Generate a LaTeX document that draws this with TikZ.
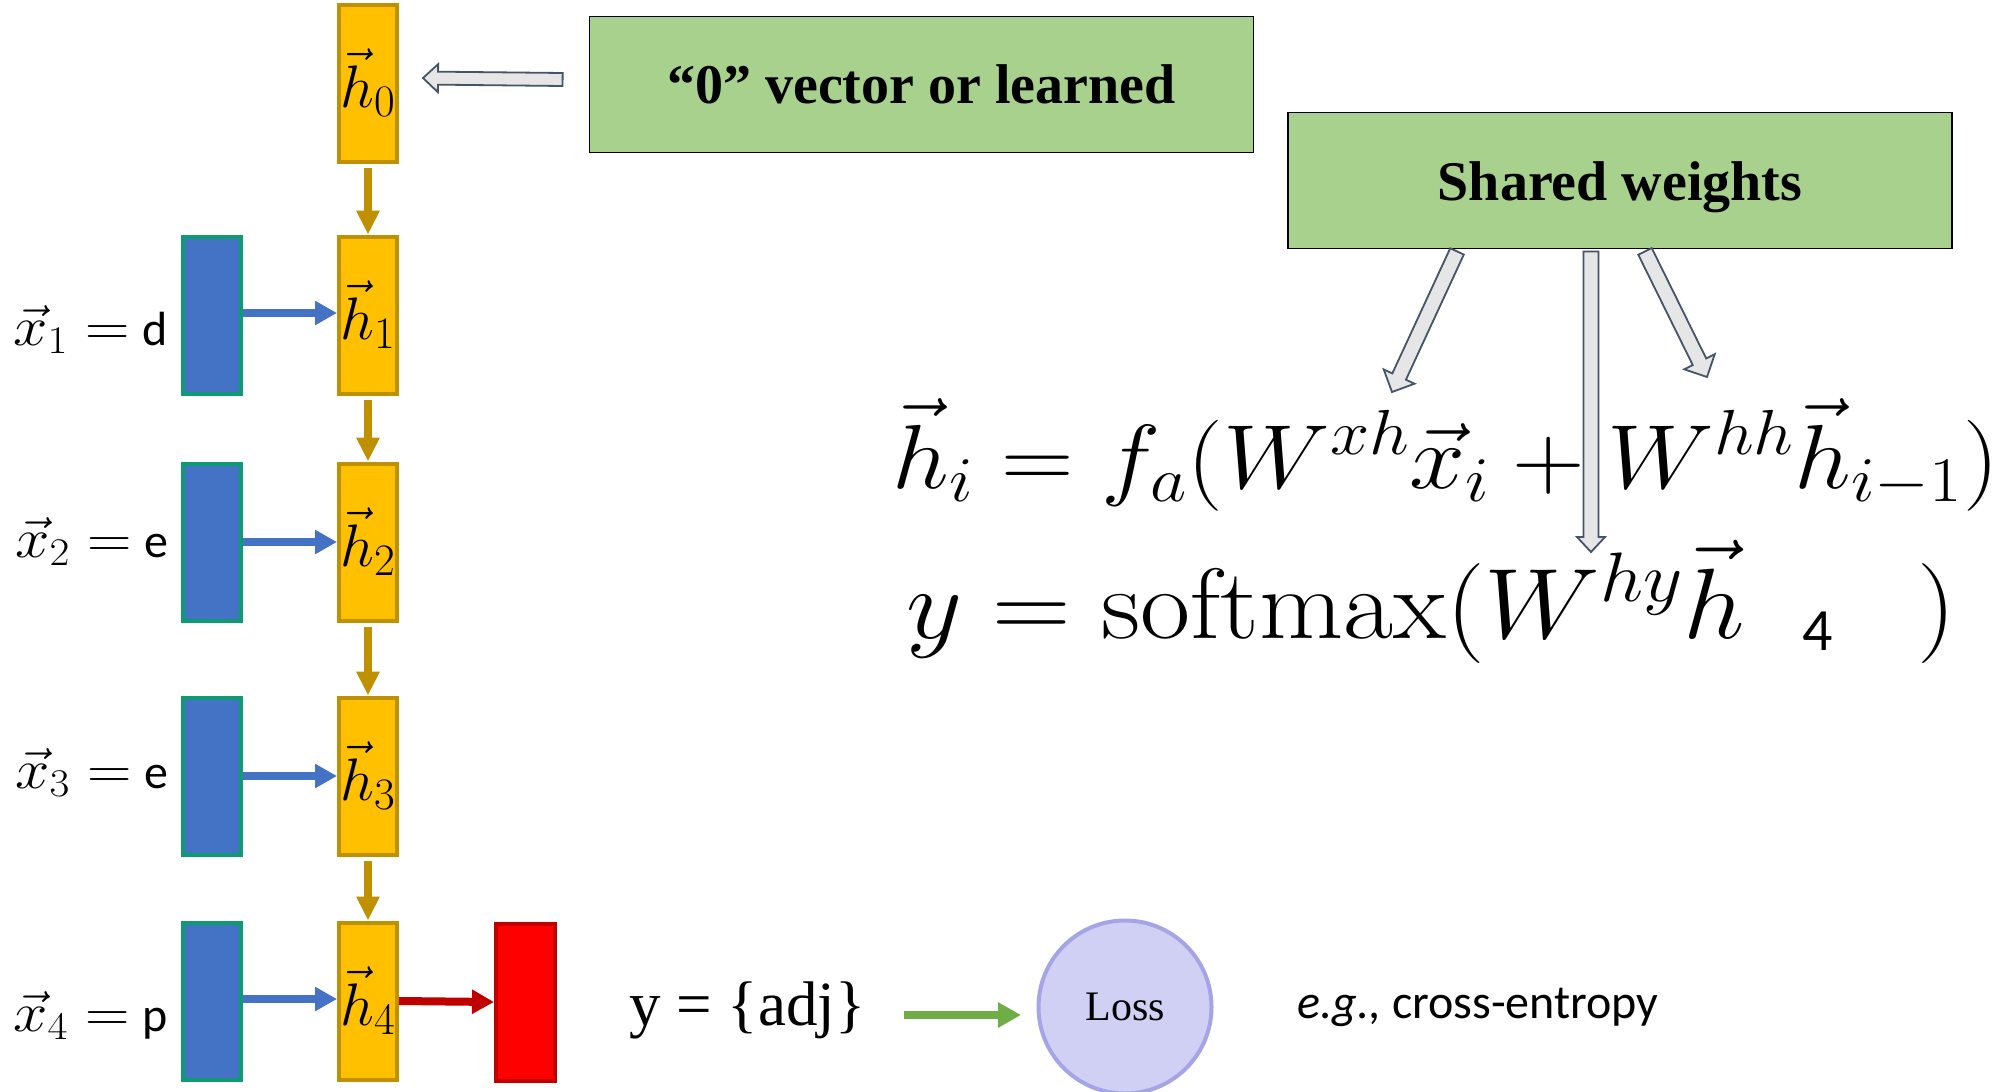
\RequirePackage{fix-cm}
\documentclass[tikz,border=0pt]{standalone}
\usepackage{fontspec}
\usepackage{graphicx}
\newfontfamily\tnr{Liberation Serif}
\newfontfamily\calib{Carlito}
\usetikzlibrary{arrows.meta,calc}
\DeclareMathSizes{30}{30}{22.5}{15}
\definecolor{gold}{HTML}{FFC000}
\definecolor{goldline}{HTML}{BF9000}
\definecolor{xblue}{HTML}{4472C4}
\definecolor{xteal}{HTML}{0E9A72}
\definecolor{xred}{HTML}{FF0000}
\definecolor{xdred}{HTML}{C00000}
\definecolor{xgreen}{HTML}{A9D18E}
\definecolor{arrgreen}{HTML}{70AD47}
\definecolor{lossfill}{HTML}{D0D0F4}
\definecolor{lossline}{HTML}{A5A5E6}
\definecolor{hollowfill}{HTML}{E7E6E6}
\definecolor{hollowline}{HTML}{44546A}
\newcommand\fs[1]{\fontsize{#1}{#1}\selectfont}
% block arrow: start, tip, shaft half width, head half width, head length
\newcommand\blockarrow[5]{%
  \coordinate (ba-h) at ($(#2)!#5!(#1)$);
  \draw[hollowarrow] ($(#1)!#3!90:(#2)$) -- ($(ba-h)!#3!90:(#2)$) -- ($(ba-h)!#4!90:(#2)$)
    -- (#2) -- ($(ba-h)!#4!-90:(#2)$) -- ($(ba-h)!#3!-90:(#2)$) -- ($(#1)!#3!-90:(#2)$) -- cycle;
}
\tikzset{
  hbox/.style={draw=goldline, fill=gold, line width=2pt, minimum width=29pt, minimum height=78.5pt, inner sep=0pt},
  xbox/.style={draw=xteal, fill=xblue, line width=2pt, minimum width=29pt, minimum height=78.5pt, inner sep=0pt},
  outbox/.style={draw=xdred, fill=xred, line width=2pt, minimum width=29.5pt, minimum height=78.5pt, inner sep=0pt},
  note/.style={draw=black, fill=xgreen, line width=0.9pt, minimum width=332pt, minimum height=68pt, inner sep=0pt, font=\tnr\bfseries\fs{28}},
  goldarr/.style={draw=goldline, line width=4pt, -{Triangle[length=12pt,width=11pt]}},
  bluearr/.style={draw=xblue, line width=4pt, -{Triangle[length=11pt,width=11.5pt]}},
  redarr/.style={draw=xdred, line width=4pt, -{Triangle[length=11pt,width=11.5pt]}},
  greenarr/.style={draw=arrgreen, line width=4pt, -{Triangle[length=11.5pt,width=12pt]}},
  hollowarrow/.style={draw=hollowline, fill=hollowfill, line width=0.9pt, line join=miter},
  lbl/.style={anchor=base west, inner sep=0pt}
}
\begin{document}
\begin{tikzpicture}[x=0.5pt, y=-0.5pt]
\useasboundingbox[fill=white] (0,0) rectangle (1997,1092);

% hidden state column
\node[hbox] (h0) at (368,83) {\fs{30}$\vec{h}_0$};
\node[hbox] (h1) at (368,315) {\fs{30}$\vec{h}_1$};
\node[hbox] (h2) at (368,542) {\fs{30}$\vec{h}_2$};
\node[hbox] (h3) at (368,776) {\fs{30}$\vec{h}_3$};
\node[hbox] (h4) at (368,1001) {\fs{30}$\vec{h}_4$};

% inputs
\node[xbox] (x1) at (212,315) {};
\node[xbox] (x2) at (212,542) {};
\node[xbox] (x3) at (212,776) {};
\node[xbox] (x4) at (212,1001) {};

% output
\node[outbox] (out) at (525.5,1002) {};

% input labels
\node[lbl] (lx1) at (13,345) {\scalebox{1.1}[1]{\fs{28}$\vec{x}_1 =$}\hspace{6pt}{\calib\fs{24}d}};
\node[lbl] (lx2) at (15,557) {\scalebox{1.1}[1]{\fs{28}$\vec{x}_2 =$}\hspace{6pt}{\calib\fs{24}e}};
\node[lbl] (lx3) at (15,788) {\scalebox{1.1}[1]{\fs{28}$\vec{x}_3 =$}\hspace{6pt}{\calib\fs{24}e}};
\node[lbl] (lx4) at (13,1031) {\scalebox{1.1}[1]{\fs{28}$\vec{x}_4 =$}\hspace{6pt}{\calib\fs{24}p}};

% recurrent arrows
\draw[goldarr] ([yshift=-2pt]h0.south) -- (h1.north);
\draw[goldarr] ([yshift=-2pt]h1.south) -- (h2.north);
\draw[goldarr] ([yshift=-2pt]h2.south) -- (h3.north);
\draw[goldarr] ([yshift=-2pt]h3.south) -- (h4.north);

% input arrows
\draw[bluearr] ([yshift=1pt]x1.east) -- ([yshift=1pt]h1.west);
\draw[bluearr] (x2.east) -- (h2.west);
\draw[bluearr] (x3.east) -- (h3.west);
\draw[bluearr] ([yshift=1pt]x4.east) -- ([yshift=1pt]h4.west);
\draw[redarr] (h4.east) -- (out.west);

% notes
\node[note] (g1) at (921.5,84.5) {“0” vector or learned};
\node[note] (g2) at (1620,180.5) {\raisebox{-3.5pt}[\height][\depth]{Shared weights}};

% equations
\node[lbl] (eq1) at (892,488) {\scalebox{1.105}[1]{\fs{45.5}$\vec{h}_i = f_a(W^{xh}\vec{x}_i + W^{hh}\vec{h}_{i-1})$}};
\node[lbl] (eq2) at (906,638) {\scalebox{1.09}[1]{\fs{50}$y = \mathrm{softmax}(W^{hy}\vec{h}$}};
\node[lbl] (eq2n) at (1802,650) {\calib\fs{30}4};
\node[anchor=base east, inner sep=0pt] (eq2p) at (1956,638) {\scalebox{1.09}[1]{\fs{50}$)$}};

% hollow arrows
\coordinate (a0s) at ([xshift=-13pt,yshift=2.5pt]g1.west);
\coordinate (a0t) at ([xshift=12pt,yshift=2.5pt]h0.east);
\blockarrow{a0s}{a0t}{3.25pt}{7pt}{7.5pt}
\coordinate (s1) at ([xshift=-81.5pt,yshift=-1pt]g2.south);
\coordinate (t1) at (1392,392);
\blockarrow{s1}{t1}{3.75pt}{8.5pt}{8.5pt}
\coordinate (s2) at ([xshift=-14.5pt,yshift=-1pt]g2.south);
\coordinate (t2) at (1591,552);
\blockarrow{s2}{t2}{3.75pt}{7pt}{7.5pt}
\coordinate (s3) at ([xshift=12.5pt,yshift=-1pt]g2.south);
\coordinate (t3) at (1707,377);
\blockarrow{s3}{t3}{3.75pt}{8.5pt}{8.5pt}

% loss
\node[lbl] (adj) at (629,1025) {\tnr\fs{31.5}y = \{adj\}};
\node[circle, draw=lossline, fill=lossfill, line width=2pt, minimum size=86.5pt, inner sep=0pt, font=\tnr\fs{21}] (loss) at (1125,1007) {Loss};
\coordinate (gs) at (904,1015);
\coordinate (gt) at (1021,1015);
\draw[greenarr] (gs) -- (gt);
\node[lbl] (ce) at (1297,1018) {\calib\fs{24}\textit{e.g.,} cross-entropy};
\end{tikzpicture}
\end{document}
